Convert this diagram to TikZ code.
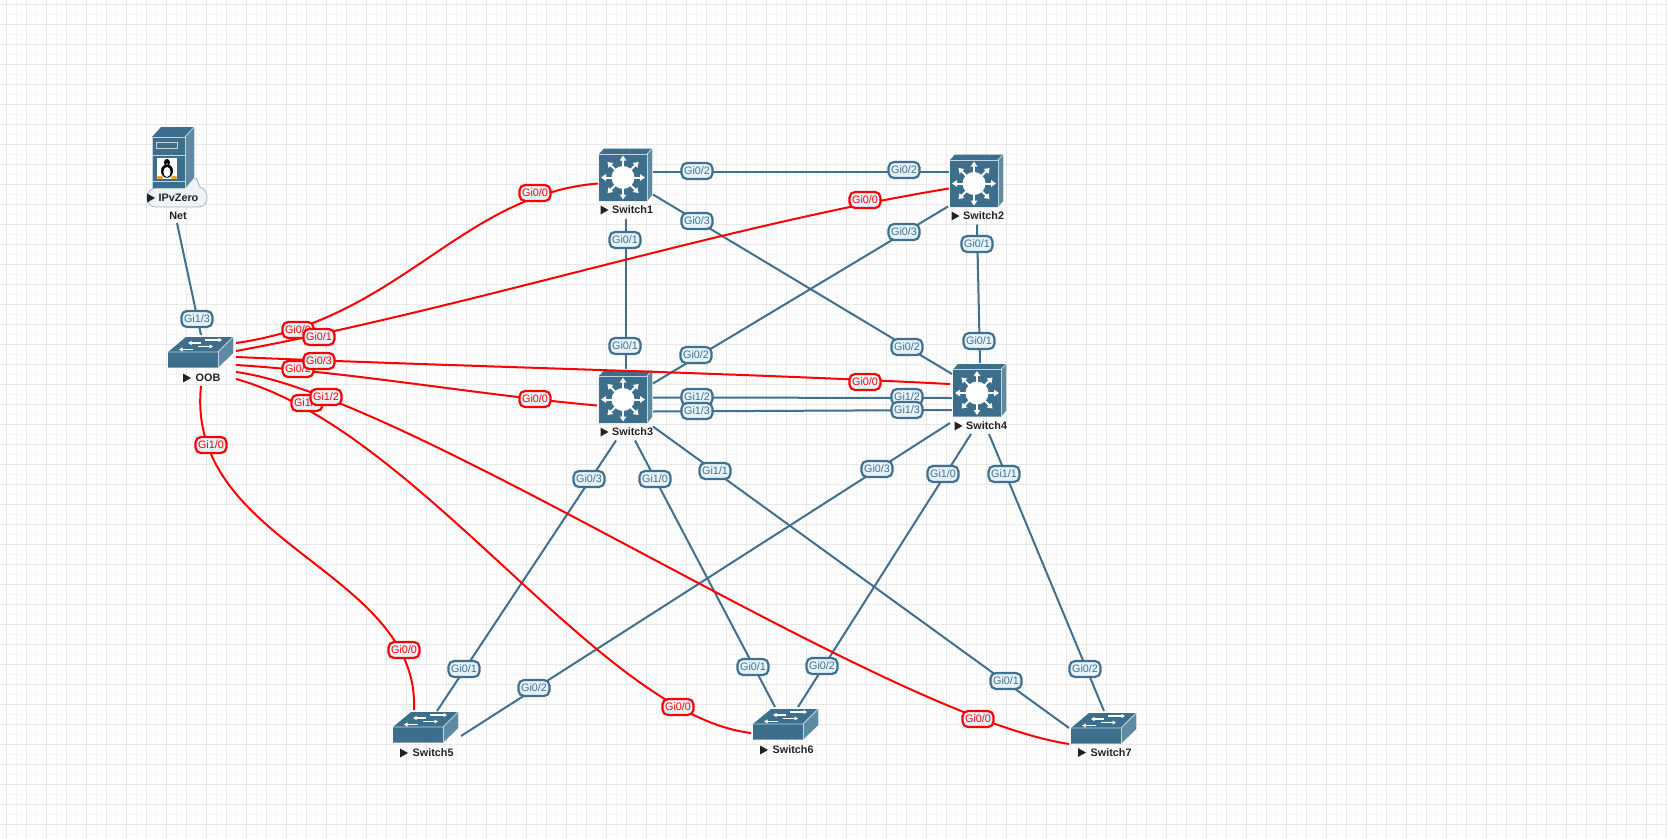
\documentclass[tikz,border=0pt]{standalone}
\usepackage{fontspec}
\setmainfont{Liberation Sans}
\usetikzlibrary{arrows.meta}
\definecolor{evblue}{HTML}{3D6E8C}
\definecolor{evlink}{HTML}{3F7090}
\definecolor{evedge}{HTML}{C4D4DE}
\definecolor{evside}{HTML}{5F8AA4}
\definecolor{evfill}{HTML}{E6F3FB}
\definecolor{evred}{HTML}{FF0000}
\definecolor{evtext}{HTML}{222222}
\definecolor{gridmajor}{HTML}{E9E9E9}
\definecolor{gridminor}{HTML}{F5F5F5}
\definecolor{cloudfill}{HTML}{EEF3F6}
\definecolor{cloudedge}{HTML}{A9B6BF}
\definecolor{tuxorange}{HTML}{F0A010}
\tikzset{
  devbox/.style={inner sep=0pt,minimum width=50pt,minimum height=50pt},
  devtext/.style={font=\fontsize{10.8}{12}\selectfont\bfseries,text=evtext,inner sep=0pt,anchor=west},
  link/.style={draw=evlink,line width=2pt},
  redlink/.style={draw=evred,line width=2pt},
  port/.style={font=\fontsize{10.8}{12}\selectfont,inner sep=0pt,minimum width=31pt,minimum height=16pt,
    rounded corners=5.5pt,line width=2.2pt,fill=evfill},
  blab/.style={port,draw=evlink,text=evlink},
  rlab/.style={port,draw=evred,text=evred},
  tri/.style={fill=evtext}
}
% name, label, face left, face top (48 x 47 face, 5 deep), label y
\newcommand{\lthree}[5]{%
  \begin{scope}[shift={(#3,#4)}]
    \fill[evblue] (0,0) -- (5,-5.5) -- (53,-5.5) -- (53,41) -- (48,47) -- (0,47) -- cycle;
    \fill[evside] (48,0) -- (53,-5.5) -- (53,41) -- (48,47) -- cycle;
    \draw[evedge,line width=0.8pt] (48,47) -- (48,0) -- (0,0);
    \draw[evedge,line width=0.8pt] (48,0) -- (53,-5.5);
    \foreach \a in {0,45,...,315}
      \draw[white,line width=2pt,-{Triangle[length=5pt,width=6.5pt]}]
        (24,23.5) ++(\a:10) -- ++(\a:12);
    \fill[white] (24,23.5) circle (11.5);
  \end{scope}
  \node[devbox] (#1) at (#3+26,#4+21.5) {};
  \fill[tri] (#3+1.5,#5-4.5) -- (#3+9.5,#5) -- (#3+1.5,#5+4.5) -- cycle;
  \node[devtext] (#1-name) at (#3+13,#5) {#2};
}
% name, label, front left, front top, label y
\newcommand{\flatsw}[5]{%
  \begin{scope}[shift={(#3,#4)}]
    \fill[evblue] (0,0) -- (18,-15) -- (65,-15) -- (65,1) -- (50,15.5) -- (0,15.5) -- cycle;
    \fill[evside] (50,0) -- (65,-15) -- (65,1) -- (50,15.5) -- cycle;
    \draw[evedge,line width=0.8pt] (0,0) -- (50,0) -- (65,-15);
    \draw[evedge,line width=0.8pt] (50,0) -- (50,15.5);
    \foreach \xa/\ya/\xb/\yb in {37/-12/54/-12, 33/-9/20/-9, 30/-5.5/45/-5.5, 25/-2.5/11/-2.5}{
      \draw[white,line width=1.2pt,-{Triangle[length=3.5pt,width=4pt]}] (\xa,\ya) -- (\xb,\yb);
    }
  \end{scope}
  \node[devbox,minimum width=65pt,minimum height=31pt] (#1) at (#3+32,#4) {};
}
\newcommand{\flatlab}[4]{%
  \fill[tri] (#2,#4-4.5) -- (#2+8,#4) -- (#2,#4+4.5) -- cycle;
  \node[devtext] (#1-name) at (#2+12.5,#4) {#3};
}
\newcommand{\lnk}[4]{\draw[link] ([shift={(#2)}]#1.center) -- ([shift={(#4)}]#3.center);}
\newcommand{\rcurve}[6]{\draw[redlink] ([shift={(#2)}]#1.center) .. controls (#5) and (#6) .. ([shift={(#4)}]#3.center);}
\begin{document}
\begin{tikzpicture}[x=1pt,y=-1pt]
\useasboundingbox (0,0) rectangle (1667,838);
\fill[white] (0,0) rectangle (1667,838);
% grid
\foreach \i in {0,...,83}{
  \draw[gridminor,line width=1pt] (16.5+20*\i,0) -- (16.5+20*\i,838);
}
\foreach \i in {0,...,41}{
  \draw[gridminor,line width=1pt] (0,14.5+20*\i) -- (1667,14.5+20*\i);
}
\foreach \i in {0,...,83}{
  \draw[gridmajor,line width=1pt] (6.5+20*\i,0) -- (6.5+20*\i,838);
}
\foreach \i in {0,...,41}{
  \draw[gridmajor,line width=1pt] (0,4.5+20*\i) -- (1667,4.5+20*\i);
}
% server with cloud
\node[devbox,minimum width=54pt,minimum height=82pt] (net) at (177,168) {};
\filldraw[fill=cloudfill,draw=cloudedge,line width=0.8pt]
  (156,188) -- (184,188) .. controls (188,188) and (190,179) .. (195,178)
  .. controls (198,178) and (198,185) .. (200,187)
  .. controls (204,188) and (207,192) .. (207,197)
  .. controls (207,203) and (204,207) .. (199,207)
  -- (156,207) .. controls (150,207) and (147,203) .. (147,197)
  .. controls (147,192) and (151,188) .. (156,188) -- cycle;
\fill[evblue] (152,137) -- (161,127) -- (194,127) -- (194,177) -- (185,188) -- (152,188) -- cycle;
\fill[evside] (185,137) -- (194,127) -- (194,177) -- (185,188) -- cycle;
\draw[evedge,line width=0.8pt] (152,188) -- (152,137) -- (185,137) -- (185,188);
\draw[evedge,line width=0.8pt] (185,137) -- (194,127);
\draw[evedge,line width=0.9pt] (156.5,142) rectangle (177,148);
\draw[evedge,line width=0.9pt] (152,155) -- (185,155);
\draw[evedge,line width=0.9pt] (152,181) -- (185,181);
\fill[white] (157,157.5) rectangle (177,179);
\fill[black] (167,162.5) ellipse (3 and 3.6);
\fill[black] (167,171) ellipse (6 and 6.8);
\fill[white] (167,172) ellipse (3.6 and 5);
\fill[tuxorange] (160,177.5) ellipse (3.2 and 1.6);
\fill[tuxorange] (174,177.5) ellipse (3.2 and 1.6);
\fill[tuxorange] (167,164) ellipse (1.3 and 0.8);
\fill[tri] (147,193.5) -- (155,198) -- (147,202.5) -- cycle;
\node[devtext] (net-tag) at (158.5,198) {IPvZero};
\node[devtext,anchor=center] (net-name) at (178,216) {Net};
% devices
\flatsw{oob}{OOB}{168}{352}{}
\flatlab{oob}{183}{OOB}{378}
\lthree{sw1}{Switch1}{599}{154}{210}
\lthree{sw2}{Switch2}{950}{160}{216}
\lthree{sw3}{Switch3}{599}{376}{432}
\lthree{sw4}{Switch4}{953}{369.5}{426}
\flatsw{sw5}{}{393}{727}{}
\flatlab{sw5}{400}{Switch5}{753}
\flatsw{sw6}{}{753}{724}{}
\flatlab{sw6}{760}{Switch6}{750}
\flatsw{sw7}{}{1071}{728}{}
\flatlab{sw7}{1078}{Switch7}{752.5}
% blue links
\lnk{net}{0,55}{oob}{1,-17}
\lnk{sw1}{28,-4}{sw2}{-27,-10}
\lnk{sw1}{28,19}{sw4}{-27,-17}
\lnk{sw1}{1,43}{sw3}{1,-29}
\lnk{sw2}{-28,25}{sw3}{28,-14}
\lnk{sw2}{1,43}{sw4}{1,-28}
\lnk{sw3}{28,0}{sw4}{-27,7}
\lnk{sw3}{28,14}{sw4}{-27,19}
\lnk{sw3}{-9,43}{sw5}{12,-16}
\lnk{sw3}{10,43}{sw6}{-10,-17}
\lnk{sw3}{28,29}{sw7}{-34,0}
\lnk{sw4}{-29,32}{sw5}{36,9}
\lnk{sw4}{-8,43}{sw6}{13,-17}
\lnk{sw4}{10,43}{sw7}{1,-17}
% red links
\rcurve{oob}{36,-9}{sw1}{-27,8}{400,320}{460,195}
\rcurve{oob}{36,-1}{sw2}{-27,7}{460,310}{725,225}
\rcurve{oob}{36,5}{sw4}{-29,-7}{470,367}{715,372}
\rcurve{oob}{36,13}{sw3}{-28,8}{350,372}{480,395}
\rcurve{oob}{36,20}{sw7}{-34,16}{410,395}{880,715}
\rcurve{oob}{36,27}{sw6}{-34,9}{420,430}{600,715}
\rcurve{oob}{1,34}{sw5}{-11,-17}{185,545}{420,570}
% port labels
\node[blab] (p01) at (197,319) {Gi1/3};
\node[blab] (p02) at (697,171) {Gi0/2};
\node[blab] (p03) at (904,170) {Gi0/2};
\node[blab] (p04) at (697,221) {Gi0/3};
\node[blab] (p05) at (907,347) {Gi0/2};
\node[blab] (p06) at (625,240) {Gi0/1};
\node[blab] (p07) at (625,346) {Gi0/1};
\node[blab] (p08) at (904,232) {Gi0/3};
\node[blab] (p09) at (696,355) {Gi0/2};
\node[blab] (p10) at (977,244) {Gi0/1};
\node[blab] (p11) at (979,341) {Gi0/1};
\node[blab] (p12) at (697,397) {Gi1/2};
\node[blab] (p13) at (697,411) {Gi1/3};
\node[blab] (p14) at (907,397) {Gi1/2};
\node[blab] (p15) at (907,410) {Gi1/3};
\node[blab] (p16) at (589,479) {Gi0/3};
\node[blab] (p17) at (655,479) {Gi1/0};
\node[blab] (p18) at (715,471) {Gi1/1};
\node[blab] (p19) at (877,469) {Gi0/3};
\node[blab] (p20) at (943,474) {Gi1/0};
\node[blab] (p21) at (1004,474) {Gi1/1};
\node[blab] (p22) at (464,669) {Gi0/1};
\node[blab] (p23) at (534,688) {Gi0/2};
\node[blab] (p24) at (753,667) {Gi0/1};
\node[blab] (p25) at (822,666) {Gi0/2};
\node[blab] (p26) at (1006,681) {Gi0/1};
\node[blab] (p27) at (1085,669) {Gi0/2};
\node[rlab] (r01) at (298,330) {Gi0/0};
\node[rlab] (r02) at (319,337) {Gi0/1};
\node[rlab] (r03) at (298,369) {Gi0/2};
\node[rlab] (r04) at (319,361) {Gi0/3};
\node[rlab] (r05) at (307,403) {Gi1/1};
\node[rlab] (r06) at (326,397) {Gi1/2};
\node[rlab] (r07) at (211,445) {Gi1/0};
\node[rlab] (r08) at (535,193) {Gi0/0};
\node[rlab] (r09) at (865,200) {Gi0/0};
\node[rlab] (r10) at (865,382) {Gi0/0};
\node[rlab] (r11) at (535,399) {Gi0/0};
\node[rlab] (r12) at (404,650) {Gi0/0};
\node[rlab] (r13) at (678,707) {Gi0/0};
\node[rlab] (r14) at (978,719) {Gi0/0};
\end{tikzpicture}
\end{document}
